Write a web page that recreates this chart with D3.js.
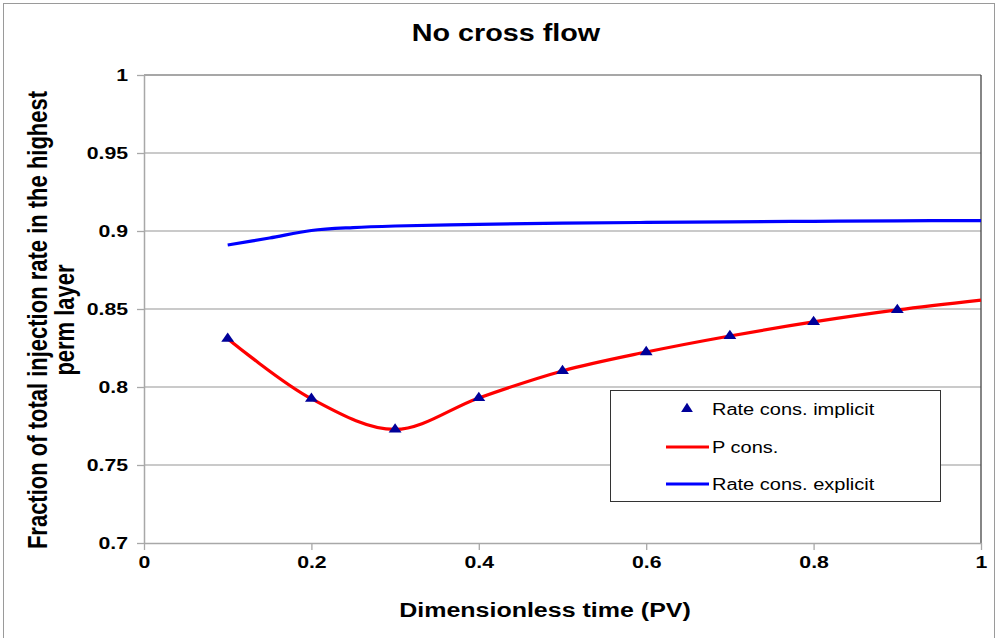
<!DOCTYPE html>
<html>
<head>
<meta charset="utf-8">
<script src="https://cdn.jsdelivr.net/npm/d3@7"></script>
<style>
  body { margin: 0; background: #fff; }
  svg { display: block; font-family: "Liberation Sans", Arial, sans-serif; }
</style>
</head>
<body>
<div id="chart"></div>
<script>
// data
const pTimes = [0.1, 0.2, 0.3, 0.4, 0.5, 0.6, 0.7, 0.8, 0.9, 1.0];
const pCons = [0.831, 0.7925, 0.7728, 0.793, 0.8103, 0.8224, 0.8327, 0.8417, 0.8494, 0.8557];

const implicitTimes = [0.1, 0.2, 0.3, 0.4, 0.5, 0.6, 0.7, 0.8, 0.9];
const rateImplicit = [0.831, 0.7925, 0.7728, 0.793, 0.8103, 0.8224, 0.8327, 0.8417, 0.8494];

const explicitTimes = [0.1, 0.15, 0.2, 0.25, 0.3, 0.4, 0.5, 0.6, 0.7, 0.8, 0.9, 1.0];
const rateExplicit = [0.891, 0.8955, 0.9003, 0.9022, 0.9032, 0.9043, 0.905, 0.9055, 0.9059, 0.9062, 0.9065, 0.9067];

const xTicks = [0, 0.2, 0.4, 0.6, 0.8, 1];
const yTicks = [0.7, 0.75, 0.8, 0.85, 0.9, 0.95, 1];

const width = 997, height = 638;
const SX = 1.25; // text in the picture is stretched sideways

const svg = d3.select("#chart").append("svg")
    .attr("width", width)
    .attr("height", height);

// outer chart frame
svg.append("rect")
    .attr("x", 3.5).attr("y", 3.5)
    .attr("width", 991).attr("height", 640)
    .attr("fill", "none")
    .attr("stroke", "#9a9a9a");

const x = d3.scaleLinear().domain([0, 1]).range([144, 981]);
const y = d3.scaleLinear().domain([0.7, 1]).range([543, 75]);

// helper for stretched text
const label = (parent, px, py, txt, size, weight, anchor) => {
    const g = parent.append("g").attr("transform", `translate(${px},${py})`);
    g.append("text")
        .attr("transform", `scale(${SX},1)`)
        .attr("text-anchor", anchor || "middle")
        .attr("font-size", size)
        .attr("font-weight", weight || "normal")
        .attr("fill", "#000")
        .text(txt);
    return g;
};

// gridlines
svg.append("g")
    .selectAll("line")
    .data(yTicks.filter(d => d > 0.7 && d < 1))
    .enter().append("line")
    .attr("x1", x(0)).attr("x2", x(1))
    .attr("y1", d => y(d)).attr("y2", d => y(d))
    .attr("stroke", "#b8b8b8")
    .attr("stroke-width", 1.3);

// plot area border, top and right
svg.append("line")
    .attr("x1", x(0)).attr("x2", x(1))
    .attr("y1", y(1)).attr("y2", y(1))
    .attr("stroke", "#8a8a8a").attr("stroke-width", 1.5);
svg.append("line")
    .attr("x1", x(1)).attr("x2", x(1))
    .attr("y1", y(1)).attr("y2", y(0.7))
    .attr("stroke", "#444").attr("stroke-width", 1.3);

// axes
const xAxis = svg.append("g")
    .attr("transform", `translate(0,${y(0.7)})`)
    .call(d3.axisBottom(x).tickValues(xTicks).tickSize(7).tickSizeOuter(0)
        .tickFormat(d3.format("")));
const yAxis = svg.append("g")
    .attr("transform", `translate(${x(0)},0)`)
    .call(d3.axisLeft(y).tickValues(yTicks).tickSize(7).tickSizeOuter(0)
        .tickFormat(d3.format("")));

[xAxis, yAxis].forEach(a => {
    a.select(".domain").attr("stroke", "#a8a8a8").attr("stroke-width", 1.5);
    a.selectAll(".tick line").attr("stroke", "#a8a8a8").attr("stroke-width", 1.3);
    a.selectAll(".tick text")
        .attr("font-family", "Liberation Sans, Arial, sans-serif")
        .attr("font-size", 17)
        .attr("font-weight", "bold")
        .attr("fill", "#000")
        .attr("transform", `scale(${SX},1)`);
});
xAxis.selectAll(".tick text").attr("y", 13).attr("dy", "0.71em");
yAxis.selectAll(".tick text").attr("x", -16 / SX).attr("dy", "0.35em");

// lines
const line = d3.line()
    .x(d => x(d[0]))
    .y(d => y(d[1]))
    .curve(d3.curveCatmullRom.alpha(0.5));

svg.append("path")
    .datum(explicitTimes.map((t, i) => [t, rateExplicit[i]]))
    .attr("d", line)
    .attr("fill", "none")
    .attr("stroke", "#0000ff")
    .attr("stroke-width", 3.2);

svg.append("path")
    .datum(pTimes.map((t, i) => [t, pCons[i]]))
    .attr("d", line)
    .attr("fill", "none")
    .attr("stroke", "#ff0000")
    .attr("stroke-width", 3.2);

const tri = d3.symbol().type(d3.symbolTriangle).size(50);
svg.append("g")
    .selectAll("path")
    .data(implicitTimes.map((t, i) => [t, rateImplicit[i]]))
    .enter().append("path")
    .attr("d", tri)
    .attr("transform", d => `translate(${x(d[0])},${y(d[1])}) scale(1.2,1)`)
    .attr("fill", "#000099");

// title and axis titles
label(svg, 506, 41, "No cross flow", 23, "bold");
label(svg, 545, 617, "Dimensionless time (PV)", 20, "bold");

const yTitle = [
    { txt: "Fraction of total injection rate in the highest", px: 47 },
    { txt: "perm layer", px: 74 }
];
yTitle.forEach(l => {
    svg.append("g")
        .attr("transform", `translate(${l.px},320) rotate(-90) scale(1,${SX})`)
        .append("text")
        .attr("text-anchor", "middle")
        .attr("font-size", 22)
        .attr("font-weight", "bold")
        .text(l.txt);
});

// legend
const legend = svg.append("g");
legend.append("rect")
    .attr("x", 610.5).attr("y", 390.5)
    .attr("width", 330).attr("height", 111)
    .attr("fill", "#fff")
    .attr("stroke", "#333");

const legendItems = [
    { name: "Rate cons. implicit", kind: "marker", color: "#000099", cy: 409 },
    { name: "P cons.", kind: "line", color: "#ff0000", cy: 447 },
    { name: "Rate cons. explicit", kind: "line", color: "#0000ff", cy: 484 }
];
legendItems.forEach(it => {
    if (it.kind === "marker") {
        legend.append("path")
            .attr("d", tri)
            .attr("transform", `translate(687,${it.cy}) scale(1.1,1)`)
            .attr("fill", it.color);
    } else {
        legend.append("line")
            .attr("x1", 666).attr("x2", 709)
            .attr("y1", it.cy).attr("y2", it.cy)
            .attr("stroke", it.color)
            .attr("stroke-width", 3.2);
    }
    label(legend, 712, it.cy + 6, it.name, 16, "normal", "start");
});
</script>
</body>
</html>
